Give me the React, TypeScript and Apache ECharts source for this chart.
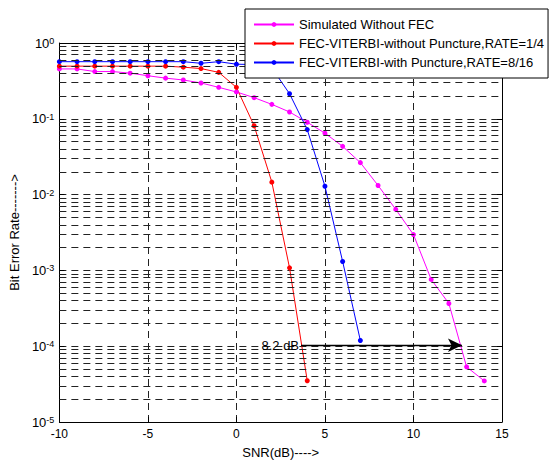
import React, { useEffect, useRef } from "react";
import * as echarts from "echarts";

const snrWithoutFEC = [-10, -9, -8, -7, -6, -5, -4, -3, -2, -1, 0, 1, 2, 3, 4, 5, 6, 7, 8, 9, 10, 11, 12, 13, 14];
const berWithoutFEC = [0.455, 0.455, 0.42, 0.42, 0.4, 0.37, 0.344, 0.325, 0.297, 0.26, 0.226, 0.19, 0.155, 0.123, 0.09, 0.0646, 0.0433, 0.0264, 0.0132, 0.00638, 0.00297, 7.6e-4, 3.66e-4, 5.34e-5, 3.48e-5];

const snrNoPuncture = [-10, -9, -8, -7, -6, -5, -4, -3, -2, -1, 0, 1, 2, 3, 4];
const berNoPuncture = [0.495, 0.495, 0.495, 0.495, 0.495, 0.495, 0.495, 0.48, 0.46, 0.41, 0.26, 0.081, 0.0146, 0.00108, 3.5e-5];

const snrPuncture = [-10, -9, -8, -7, -6, -5, -4, -3, -2, -1, 0, 1, 2, 3, 4, 5, 6, 7];
const berPuncture = [0.567, 0.567, 0.567, 0.567, 0.567, 0.567, 0.567, 0.567, 0.54, 0.567, 0.525, 0.52, 0.47, 0.214, 0.072, 0.0129, 0.00131, 1.19e-4];

const seriesNames = [
  "Simulated Without FEC",
  "FEC-VITERBI-without Puncture,RATE=1/4",
  "FEC-VITERBI-with Puncture,RATE=8/16",
];
const seriesColors = ["#ff00ff", "#ff0000", "#0000ff"];

const xMin = -10;
const xMax = 15;
const xInterval = 5;
const yMin = 1e-5;
const yMax = 1;
const decadeExponents = [-5, -4, -3, -2, -1];
const minorMultipliers = [2, 3, 4, 5, 6, 7, 8, 9];

const arrowStart = [3.65, 1.03e-4];
const arrowEnd = [12.74, 1.03e-4];
const arrowLabel = "8.2 dB";

const FONT = "Arial, 'Liberation Sans', sans-serif";

function zip(xs: number[], ys: number[]) {
  return xs.map((x, i) => [x, ys[i]]);
}

export default function App() {
  const ref = useRef<HTMLDivElement>(null);

  useEffect(() => {
    if (!ref.current) return;
    const chart = echarts.init(ref.current, null, { renderer: "svg" });

    const minorLines: any[] = [];
    decadeExponents.forEach((e) => {
      minorMultipliers.forEach((m) => {
        minorLines.push({ yAxis: m * Math.pow(10, e) });
      });
    });

    const gridDash = { type: [7, 5] as any, color: "#222", width: 1 };

    const dataSeries = [
      zip(snrWithoutFEC, berWithoutFEC),
      zip(snrNoPuncture, berNoPuncture),
      zip(snrPuncture, berPuncture),
    ].map((d, i) => ({
      name: seriesNames[i],
      type: "line",
      data: d,
      symbol: "circle",
      symbolSize: 5,
      showSymbol: true,
      z: 3,
      lineStyle: { width: 1, color: seriesColors[i] },
      itemStyle: { color: seriesColors[i] },
    }));

    chart.setOption({
      animation: false,
      backgroundColor: "#fff",
      textStyle: { fontFamily: FONT },
      grid: { left: 57, right: 49, top: 43, bottom: 37, show: false },
      legend: {
        data: seriesNames,
        orient: "vertical",
        left: 245,
        top: 9,
        itemWidth: 40,
        itemHeight: 6,
        itemGap: 6,
        padding: [9, 4, 9, 8],
        borderColor: "#000",
        borderWidth: 1,
        backgroundColor: "#fff",
        textStyle: { fontSize: 13, color: "#000", fontFamily: FONT },
        z: 10,
      },
      xAxis: [
        {
          type: "value",
          min: xMin,
          max: xMax,
          interval: xInterval,
          name: "SNR(dB)---->",
          nameLocation: "middle",
          nameGap: 24,
          nameTextStyle: { fontSize: 13, color: "#000", fontFamily: FONT },
          axisLine: { show: true, onZero: false, lineStyle: { color: "#000", width: 1 } },
          axisTick: { show: true, inside: true, length: 5, lineStyle: { color: "#000" } },
          axisLabel: { fontSize: 12, color: "#000", margin: 6, fontFamily: FONT },
          splitLine: { show: true, lineStyle: gridDash },
        },
        {
          type: "value",
          position: "top",
          min: xMin,
          max: xMax,
          interval: xInterval,
          axisLine: { show: true, onZero: false, lineStyle: { color: "#000", width: 1 } },
          axisTick: { show: true, inside: true, length: 5, lineStyle: { color: "#000" } },
          axisLabel: { show: false },
          splitLine: { show: false },
        },
      ],
      yAxis: [
        {
          type: "log",
          logBase: 10,
          min: yMin,
          max: yMax,
          name: "Bit Error Rate------->",
          nameLocation: "middle",
          nameGap: 37,
          nameTextStyle: { fontSize: 13, color: "#000", fontFamily: FONT },
          axisLine: { show: true, onZero: false, lineStyle: { color: "#000", width: 1 } },
          axisTick: { show: true, inside: true, length: 5, lineStyle: { color: "#000" } },
          axisLabel: {
            margin: 5,
            formatter: (v: number) => `{b|10}{s|${Math.round(Math.log10(v))}}`,
            rich: {
              b: { fontSize: 13, lineHeight: 13, color: "#000", fontFamily: FONT, verticalAlign: "middle" },
              s: { fontSize: 9, lineHeight: 9, color: "#000", fontFamily: FONT, verticalAlign: "top", padding: [0, 0, 18, 0] },
            },
          },
          splitLine: { show: true, lineStyle: gridDash },
        },
        {
          type: "log",
          logBase: 10,
          position: "right",
          min: yMin,
          max: yMax,
          axisLine: { show: true, onZero: false, lineStyle: { color: "#000", width: 1 } },
          axisTick: { show: true, inside: true, length: 5, lineStyle: { color: "#000" } },
          axisLabel: { show: false },
          splitLine: { show: false },
        },
      ],
      series: [
        {
          name: "__grid",
          type: "line",
          data: [],
          z: 1,
          silent: true,
          markLine: {
            silent: true,
            animation: false,
            precision: 12,
            symbol: ["none", "none"],
            label: { show: false },
            lineStyle: gridDash,
            emphasis: { disabled: true },
            data: [
              ...minorLines,
              [
                {
                  coord: arrowStart,
                  symbol: "none",
                  lineStyle: { type: "solid", color: "#000", width: 1.3 },
                  label: {
                    show: true,
                    position: "start",
                    distance: 2,
                    formatter: arrowLabel,
                    color: "#000",
                    fontSize: 13,
                    fontFamily: FONT,
                  },
                },
                { coord: arrowEnd, symbol: "arrow", symbolSize: [10, 14] },
              ],
            ],
          },
        },
        ...dataSeries,
      ],
    });

    return () => chart.dispose();
  }, []);

  return (
    <div
      ref={ref}
      style={{ position: "fixed", left: 0, top: 0, width: 551, height: 464, background: "#fff" }}
    />
  );
}
